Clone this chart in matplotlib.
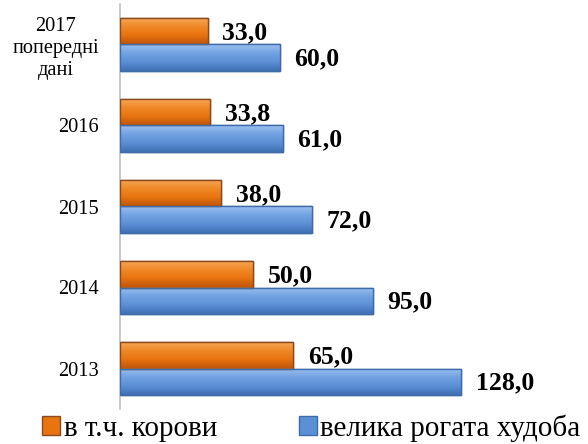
import matplotlib
matplotlib.use("Agg")
import matplotlib.pyplot as plt
import numpy as np
from matplotlib.colors import LinearSegmentedColormap

categories = ["2013", "2014", "2015", "2016", "2017\nпопередні\nдані"]
cows = [65.0, 50.0, 38.0, 33.8, 33.0]
cattle = [128.0, 95.0, 72.0, 61.0, 60.0]
series_names = ["в т.ч. корови", "велика рогата худоба"]

plt.rcParams['font.family'] = 'Liberation Serif'

fig = plt.figure(figsize=(5.88, 4.44), dpi=100)
W, H = 588, 444
left_px, right_px = 120, 588
top_px, bot_px = 4, 409
ax = fig.add_axes([left_px / W, (H - bot_px) / H, (right_px - left_px) / W, (bot_px - top_px) / H])

px_per_unit = 2.664
ax.set_xlim(0, (right_px - left_px) / px_per_unit)
ax.set_ylim(-0.5, len(categories) - 0.5)

y = np.arange(len(categories))
bh = 0.33

orange_edge = "#8A4A1E"
blue_edge = "#3D6CA8"
orange_cmap = LinearSegmentedColormap.from_list("o", ["#C2560B", "#E8740F", "#F08A2A", "#F7A95A"])
blue_cmap = LinearSegmentedColormap.from_list("b", ["#3F70B4", "#5B8FD6", "#72A2E2", "#9CC0F0"])

b1 = ax.barh(y + bh / 2, cows, height=bh, color="#E8740F", edgecolor=orange_edge, linewidth=1.0, zorder=2, label=series_names[0])
b2 = ax.barh(y - bh / 2, cattle, height=bh, color="#5B8FD6", edgecolor=blue_edge, linewidth=1.0, zorder=2, label=series_names[1])

grad = np.linspace(0, 1, 64).reshape(-1, 1)
for bars, cmap in ((b1, orange_cmap), (b2, blue_cmap)):
    for rect in bars:
        x0, y0 = rect.get_x(), rect.get_y()
        w, h = rect.get_width(), rect.get_height()
        im = ax.imshow(grad, cmap=cmap, extent=[x0, x0 + w, y0, y0 + h], origin="lower",
                       aspect="auto", zorder=2.5, interpolation="bicubic")
        im.set_clip_path(rect)
        ax.add_patch(plt.Rectangle((x0, y0), w, h, fill=False, edgecolor=rect.get_edgecolor(),
                                   linewidth=1.0, zorder=3))

def fmt(v):
    return f"{v:.1f}".replace(".", ",")

for bars, vals in ((b1, cows), (b2, cattle)):
    for rect, v in zip(bars, vals):
        ax.annotate(fmt(v), (rect.get_width(), rect.get_y() + rect.get_height() / 2),
                    xytext=(10.5, -1), textcoords="offset points", ha="left", va="center",
                    fontsize=18.5, fontweight="bold", color="black", zorder=4)

ax.set_xticks([])
ax.set_yticks(y)
ax.set_yticklabels(categories, fontsize=14.7, multialignment="center")
ax.tick_params(axis="y", length=0, pad=15)
for s in ("top", "right", "bottom"):
    ax.spines[s].set_visible(False)
ax.spines["left"].set_color("#BFBFBF")
ax.spines["left"].set_linewidth(1.2)

leg = fig.legend(handles=[b1, b2], labels=series_names, loc="center left",
                 bbox_to_anchor=(42 / W, (H - 428) / H), ncol=2, frameon=False,
                 prop={"size": 21},
                 handlelength=0.62, handleheight=0.62, handletextpad=0.12, columnspacing=2.8,
                 borderaxespad=0, borderpad=0)

fig.savefig("out.png", dpi=100)
